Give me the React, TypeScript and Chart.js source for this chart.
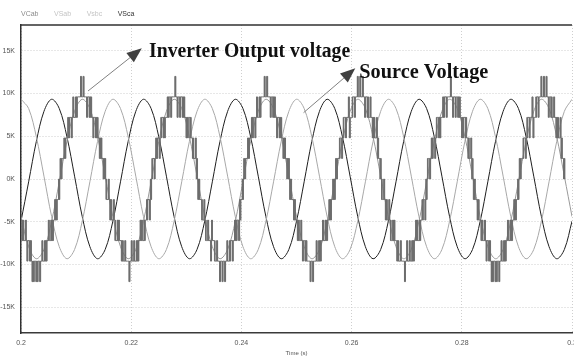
import React, { useEffect, useRef } from 'react';
import { Chart, registerables } from 'chart.js';

Chart.register(...registerables);

// ---- labels / ticks ----
const SERIES_LABELS = ['VCab', 'VSab', 'Vsbc', 'VSca'];
const LEGEND_COLORS = ['#8c8c8c', '#c4c4c4', '#c4c4c4', '#333333'];
const X_TICKS = [0.2, 0.22, 0.24, 0.26, 0.28, 0.3];
const X_TICK_LABELS = ['0.2', '0.22', '0.24', '0.26', '0.28', '0.3'];
const Y_TICKS = [-15, -10, -5, 0, 5, 10, 15];
const Y_TICK_LABELS = ['-15K', '-10K', '-5K', '0K', '5K', '10K', '15K'];
const X_TITLE = 'Time (s)';

// ---- source voltages (kV), sampled every 1/720 s from t = 0.2 s ----
const SINE_T0 = 0.2;
const SINE_DT = 1 / 720;
const VSCA = [
  -4.94, -0.33, 4.38, 7.91, 9.32, 8.24, 4.94, 0.33, -4.38, -7.91, -9.32, -8.24,
  -4.94, -0.33, 4.38, 7.91, 9.32, 8.24, 4.94, 0.33, -4.38, -7.91, -9.32, -8.24,
  -4.94, -0.33, 4.38, 7.91, 9.32, 8.24, 4.94, 0.33, -4.38, -7.91, -9.32, -8.24,
  -4.94, -0.33, 4.38, 7.91, 9.32, 8.24, 4.94, 0.33, -4.38, -7.91, -9.32, -8.24,
  -4.94, -0.33, 4.38, 7.91, 9.32, 8.24, 4.94, 0.33, -4.38, -7.91, -9.32, -8.24,
  -4.94, -0.33, 4.38, 7.91, 9.32, 8.24, 4.94, 0.33, -4.38, -7.91, -9.32, -8.24,
  -4.94,
];
const VSBC = [
  9.32, 8.24, 4.94, 0.33, -4.38, -7.91, -9.32, -8.24, -4.94, -0.33, 4.38, 7.91,
  9.32, 8.24, 4.94, 0.33, -4.38, -7.91, -9.32, -8.24, -4.94, -0.33, 4.38, 7.91,
  9.32, 8.24, 4.94, 0.33, -4.38, -7.91, -9.32, -8.24, -4.94, -0.33, 4.38, 7.91,
  9.32, 8.24, 4.94, 0.33, -4.38, -7.91, -9.32, -8.24, -4.94, -0.33, 4.38, 7.91,
  9.32, 8.24, 4.94, 0.33, -4.38, -7.91, -9.32, -8.24, -4.94, -0.33, 4.38, 7.91,
  9.32, 8.24, 4.94, 0.33, -4.38, -7.91, -9.32, -8.24, -4.94, -0.33, 4.38, 7.91,
  9.32,
];
const VSAB = [
  -4.38, -7.91, -9.32, -8.24, -4.94, -0.33, 4.38, 7.91, 9.32, 8.24, 4.94, 0.33,
  -4.38, -7.91, -9.32, -8.24, -4.94, -0.33, 4.38, 7.91, 9.32, 8.24, 4.94, 0.33,
  -4.38, -7.91, -9.32, -8.24, -4.94, -0.33, 4.38, 7.91, 9.32, 8.24, 4.94, 0.33,
  -4.38, -7.91, -9.32, -8.24, -4.94, -0.33, 4.38, 7.91, 9.32, 8.24, 4.94, 0.33,
  -4.38, -7.91, -9.32, -8.24, -4.94, -0.33, 4.38, 7.91, 9.32, 8.24, 4.94, 0.33,
  -4.38, -7.91, -9.32, -8.24, -4.94, -0.33, 4.38, 7.91, 9.32, 8.24, 4.94, 0.33,
  -4.38,
];

// ---- inverter output (multilevel staircase, kV) ----
// one code per 1/4320 s sample.
//  '0'..'5' steady at +level, 'a'..'e' steady at -level
//  'A'..'E' PWM chatter between +level k-1 and k, 'V'..'Z' between -(k-1) and -k
const STAIR_T0 = 0.1987037;
const STAIR_DT = 1 / 4320;
const STAIR_LEVEL_VALUES = [0, 2.4, 4.8, 7.2, 9.6, 12];
const STAIR_HALF_CYCLES = [
  'VVaWWbXXcXYcYYZZdZZdZdYdYYcXcXXbWWaV',
  'AA1BB2CC3CD3DD44E4E44D4DD3C3CC2BB1AA',
  'VaVWWbWXcXXcYYdYddZdYdYdYYcXXcXbWaWV',
  'A1ABB2BC3CC3DD4D44E4D4D4DD3CC3C2B1BA',
  'VVaWbWXcXcYXcYdYdZdZdZdYdYcYcXXbXWaV',
  'AA1BB2CC3CD3DD44E4E44D4DD3C3CC2BB1AA',
  'VVaWWbXXcXYcYYddZdZddYdYYcXcXXbWWaVV',
  'AA1B2BC3C3DC3D4D4E4E4E4D4D3D3CC2CB1A',
  'VaVWWbWXcXXcYYdYddZdYdYdYYcXXcXbWaWV',
  'A1ABB2BC3CC3DD4D44E4D4D4DD3CC3C2B1BA',
  'VVaWWbXXcXYcYYZZdZZdZdYdYYcXcXXbWWaV',
  'AA1B2BC3C3DC3D4D4E4E4E4D4D3D3CC2CB1A',
  '0',
];

const ANNOTATIONS = [
  { text: 'Inverter Output voltage', from: [0.21217, 10.29], to: [0.22193, 15.28], textAt: [0.22325, 14.29], width: 201 },
  { text: 'Source Voltage', from: [0.25128, 7.75], to: [0.26067, 12.94], textAt: [0.2614, 11.77], width: 129 },
];

const SMALL_FONT = '"Liberation Sans Narrow", "Liberation Sans", Arial, sans-serif';

function levelOf(idx: number, sign: number): number {
  return sign * STAIR_LEVEL_VALUES[idx];
}

// expand the level codes into stepped points (chatter = rapid alternation inside one sample)
function buildStair(): { x: number; y: number }[] {
  const codes = STAIR_HALF_CYCLES.join('');
  const pts: { x: number; y: number }[] = [];
  for (let i = 0; i < codes.length; i++) {
    const c = codes[i];
    const t = STAIR_T0 + i * STAIR_DT;
    let p = '012345'.indexOf(c);
    if (p >= 0) { pts.push({ x: t, y: levelOf(p, 1) }); continue; }
    p = ' abcde'.indexOf(c);
    if (p > 0) { pts.push({ x: t, y: levelOf(p, -1) }); continue; }
    let k = ' ABCDE'.indexOf(c);
    let sign = 1;
    if (k <= 0) { k = ' VWXYZ'.indexOf(c); sign = -1; }
    const lo = levelOf(k - 1, sign);
    const hi = levelOf(k, sign);
    for (let j = 0; j < 4; j++) {
      pts.push({ x: t + (j * STAIR_DT) / 4, y: j % 2 === 0 ? lo : hi });
    }
  }
  return pts;
}

function drawArrow(ctx: CanvasRenderingContext2D, x1: number, y1: number, x2: number, y2: number) {
  const ang = Math.atan2(y2 - y1, x2 - x1);
  const L = 15;
  const W = 6;
  const bx = x2 - L * Math.cos(ang);
  const by = y2 - L * Math.sin(ang);
  ctx.strokeStyle = '#808080';
  ctx.lineWidth = 1;
  ctx.beginPath();
  ctx.moveTo(x1, y1);
  ctx.lineTo(bx, by);
  ctx.stroke();
  ctx.fillStyle = '#404040';
  ctx.beginPath();
  ctx.moveTo(x2, y2);
  ctx.lineTo(bx + W * Math.sin(ang), by - W * Math.cos(ang));
  ctx.lineTo(bx - W * Math.sin(ang), by + W * Math.cos(ang));
  ctx.closePath();
  ctx.fill();
}

const overlayPlugin = {
  id: 'overlay',
  afterDraw(chart: any) {
    const { ctx, chartArea, scales } = chart;
    const xs = scales.x;
    const ys = scales.y;
    ctx.save();
    // top frame line
    ctx.strokeStyle = '#303030';
    ctx.lineWidth = 1.5;
    ctx.beginPath();
    ctx.moveTo(chartArea.left, chartArea.top);
    ctx.lineTo(chartArea.right, chartArea.top);
    ctx.stroke();

    // legend
    ctx.font = `7px ${SMALL_FONT}`;
    ctx.textBaseline = 'middle';
    ctx.textAlign = 'left';
    let lx = chartArea.left;
    SERIES_LABELS.forEach((lab, i) => {
      ctx.fillStyle = LEGEND_COLORS[i];
      ctx.fillText(lab, lx, 14);
      lx += ctx.measureText(lab).width + 15.5;
    });

    // axis title
    ctx.font = `6px ${SMALL_FONT}`;
    ctx.fillStyle = '#555';
    ctx.textAlign = 'center';
    ctx.fillText(X_TITLE, (chartArea.left + chartArea.right) / 2, 353);

    // annotations
    ANNOTATIONS.forEach((a) => {
      drawArrow(
        ctx,
        xs.getPixelForValue(a.from[0]), ys.getPixelForValue(a.from[1]),
        xs.getPixelForValue(a.to[0]), ys.getPixelForValue(a.to[1])
      );
      ctx.font = 'bold 20px "Liberation Serif", "Times New Roman", serif';
      ctx.fillStyle = '#111';
      ctx.textAlign = 'left';
      ctx.textBaseline = 'alphabetic';
      const w = ctx.measureText(a.text).width;
      const tx = xs.getPixelForValue(a.textAt[0]);
      const ty = ys.getPixelForValue(a.textAt[1]);
      ctx.save();
      ctx.translate(tx, ty);
      ctx.scale(a.width / w, 1);
      ctx.fillText(a.text, 0, 0);
      ctx.restore();
    });
    ctx.restore();
  },
};

export default function App() {
  const canvasRef = useRef<HTMLCanvasElement | null>(null);

  useEffect(() => {
    const canvas = canvasRef.current;
    if (!canvas) return;
    const sine = (vals: number[]) => vals.map((v, i) => ({ x: SINE_T0 + i * SINE_DT, y: v }));

    const chart = new Chart(canvas, {
      type: 'line',
      data: {
        datasets: [
          { label: SERIES_LABELS[0], data: buildStair(), borderColor: '#6e6e6e', borderWidth: 1, pointRadius: 0, stepped: true },
          { label: SERIES_LABELS[1], data: sine(VSAB), borderColor: '#9a9a9a', borderWidth: 1, pointRadius: 0, tension: 0.35 },
          { label: SERIES_LABELS[2], data: sine(VSBC), borderColor: '#a8a8a8', borderWidth: 1, pointRadius: 0, tension: 0.35 },
          { label: SERIES_LABELS[3], data: sine(VSCA), borderColor: '#1e1e1e', borderWidth: 1, pointRadius: 0, tension: 0.35 },
        ],
      },
      options: {
        responsive: false,
        maintainAspectRatio: false,
        devicePixelRatio: 1,
        animation: false,
        events: [],
        layout: { padding: { top: 25, right: 28, left: 0, bottom: 0 } },
        plugins: { legend: { display: false }, tooltip: { enabled: false }, title: { display: false } },
        scales: {
          x: {
            type: 'linear',
            min: 0.2,
            max: 0.3,
            afterBuildTicks: (s: any) => { s.ticks = X_TICKS.map((v) => ({ value: v })); },
            afterFit: (s: any) => { s.height = 23; },
            grid: { color: '#cfcfcf', lineWidth: 1, drawTicks: false },
            border: { display: true, color: '#3a3a3a', width: 1.5, dash: [1, 2] },
            ticks: {
              padding: 6,
              maxRotation: 0,
              autoSkip: false,
              color: '#555',
              font: { size: 7, family: SMALL_FONT },
              callback: (_v: any, i: number) => X_TICK_LABELS[i],
            },
          },
          y: {
            type: 'linear',
            min: -18,
            max: 18,
            afterBuildTicks: (s: any) => { s.ticks = Y_TICKS.map((v) => ({ value: v })); },
            afterFit: (s: any) => { s.width = 21; },
            grid: { color: '#cfcfcf', lineWidth: 1, drawTicks: false },
            border: { display: true, color: '#303030', width: 1.5, dash: [1, 2] },
            ticks: {
              padding: 6,
              autoSkip: false,
              color: '#555',
              font: { size: 7, family: SMALL_FONT },
              callback: (_v: any, i: number) => Y_TICK_LABELS[i],
            },
          },
        },
      },
      plugins: [overlayPlugin],
    });
    return () => chart.destroy();
  }, []);

  return (
    <div style={{ position: 'fixed', left: 0, top: 0, width: 574, height: 356, overflow: 'hidden', background: '#fff' }}>
      <canvas ref={canvasRef} width={600} height={356} style={{ display: 'block', width: 600, height: 356 }} />
    </div>
  );
}
